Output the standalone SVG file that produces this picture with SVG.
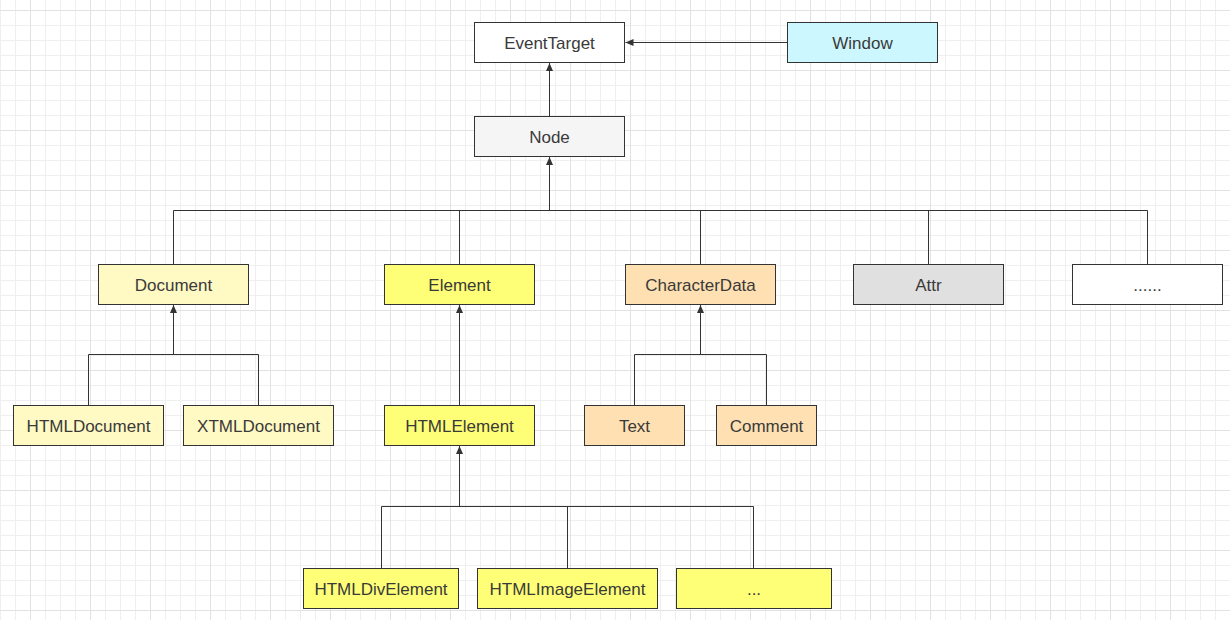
<svg xmlns="http://www.w3.org/2000/svg" width="1230" height="620" viewBox="0 0 1230 620">
  <defs>
    <pattern id="grid" x="0" y="10" width="60" height="60" patternUnits="userSpaceOnUse">
      <path d="M15.5,0V60M45.5,0V60M0,15.5H60M0,30.5H60M0,45.5H60" fill="none" stroke="#efefef" stroke-width="1"/>
      <path d="M0.5,0V60" fill="none" stroke="#efefef" stroke-width="1"/>
      <path d="M30.5,0V60M0,0.5H60" fill="none" stroke="#e2e2e2" stroke-width="1"/>
    </pattern>
    <marker id="arrow" markerUnits="userSpaceOnUse" markerWidth="10" markerHeight="8" refX="8" refY="3.5" orient="auto">
      <path d="M0,0 L8,3.5 L0,7 z" fill="#333"/>
    </marker>
  </defs>
  <style>
    .box { stroke: #333; stroke-width: 1; }
    .lbl { font-family: "Liberation Sans", Arial, sans-serif; font-size: 17px; fill: #3a3a3a; text-anchor: middle; }
    .edge { fill: none; stroke: #333; stroke-width: 1; }
    .trunk { fill: none; stroke: #333; stroke-width: 1; marker-end: url(#arrow); }
    .white { fill: #ffffff; }
    .cyan { fill: #ccf7ff; }
    .grey1 { fill: #f5f5f5; }
    .grey2 { fill: #e0e0e0; }
    .ylight { fill: #fff9c4; }
    .yellow { fill: #ffff77; }
    .orange { fill: #ffe0b2; }
  </style>
  <rect width="1230" height="620" fill="#ffffff"/>
  <rect width="1230" height="620" fill="url(#grid)"/>

  <g id="connectors">
    <path class="trunk" d="M787.5,42.5H625.5"/>
    <path class="trunk" d="M549.5,116.5V63"/>
    <path class="edge" d="M173.5,264.5V210.5H1147.5V264.5"/>
    <path class="edge" d="M459.5,264.5V210.5"/>
    <path class="edge" d="M700.5,264.5V210.5"/>
    <path class="edge" d="M928.5,264.5V210.5"/>
    <path class="trunk" d="M549.5,210.5V157"/>
    <path class="edge" d="M88.5,405.5V354.5H258.5V405.5"/>
    <path class="trunk" d="M173.5,354.5V305"/>
    <path class="trunk" d="M459.5,405.5V305"/>
    <path class="edge" d="M634.5,405.5V354.5H766.5V405.5"/>
    <path class="trunk" d="M700.5,354.5V305"/>
    <path class="edge" d="M381.5,568.5V506.5H753.5V568.5"/>
    <path class="edge" d="M567.5,568.5V506.5"/>
    <path class="trunk" d="M459.5,506.5V446"/>
  </g>

  <g id="EventTarget"><rect class="box white" x="474.5" y="22.5" width="150" height="40"/><text class="lbl" x="549.5" y="48.5">EventTarget</text></g>
  <g id="Window"><rect class="box cyan" x="787.5" y="22.5" width="150" height="40"/><text class="lbl" x="862.5" y="48.5">Window</text></g>
  <g id="Node"><rect class="box grey1" x="474.5" y="116.5" width="150" height="40"/><text class="lbl" x="549.5" y="142.5">Node</text></g>

  <g id="Document"><rect class="box ylight" x="98.5" y="264.5" width="150" height="40"/><text class="lbl" x="173.5" y="290.5">Document</text></g>
  <g id="Element"><rect class="box yellow" x="384.5" y="264.5" width="150" height="40"/><text class="lbl" x="459.5" y="290.5">Element</text></g>
  <g id="CharacterData"><rect class="box orange" x="625.5" y="264.5" width="150" height="40"/><text class="lbl" x="700.5" y="290.5">CharacterData</text></g>
  <g id="Attr"><rect class="box grey2" x="853.5" y="264.5" width="150" height="40"/><text class="lbl" x="928.5" y="290.5">Attr</text></g>
  <g id="More1"><rect class="box white" x="1072.5" y="264.5" width="150" height="40"/><text class="lbl" x="1147.5" y="290.5">......</text></g>

  <g id="HTMLDocument"><rect class="box ylight" x="13.5" y="405.5" width="150" height="40"/><text class="lbl" x="88.5" y="431.5">HTMLDocument</text></g>
  <g id="XTMLDocument"><rect class="box ylight" x="183.5" y="405.5" width="150" height="40"/><text class="lbl" x="258.5" y="431.5">XTMLDocument</text></g>
  <g id="HTMLElement"><rect class="box yellow" x="384.5" y="405.5" width="150" height="40"/><text class="lbl" x="459.5" y="431.5">HTMLElement</text></g>
  <g id="Text"><rect class="box orange" x="584.5" y="405.5" width="100" height="40"/><text class="lbl" x="634.5" y="431.5">Text</text></g>
  <g id="Comment"><rect class="box orange" x="716.5" y="405.5" width="100" height="40"/><text class="lbl" x="766.5" y="431.5">Comment</text></g>

  <g id="HTMLDivElement"><rect class="box yellow" x="303.5" y="568.5" width="155" height="40"/><text class="lbl" x="381" y="594.5">HTMLDivElement</text></g>
  <g id="HTMLImageElement"><rect class="box yellow" x="477.5" y="568.5" width="180" height="40"/><text class="lbl" x="567.5" y="594.5">HTMLImageElement</text></g>
  <g id="More2"><rect class="box yellow" x="676.5" y="568.5" width="155" height="40"/><text class="lbl" x="754" y="594.5">...</text></g>
</svg>
